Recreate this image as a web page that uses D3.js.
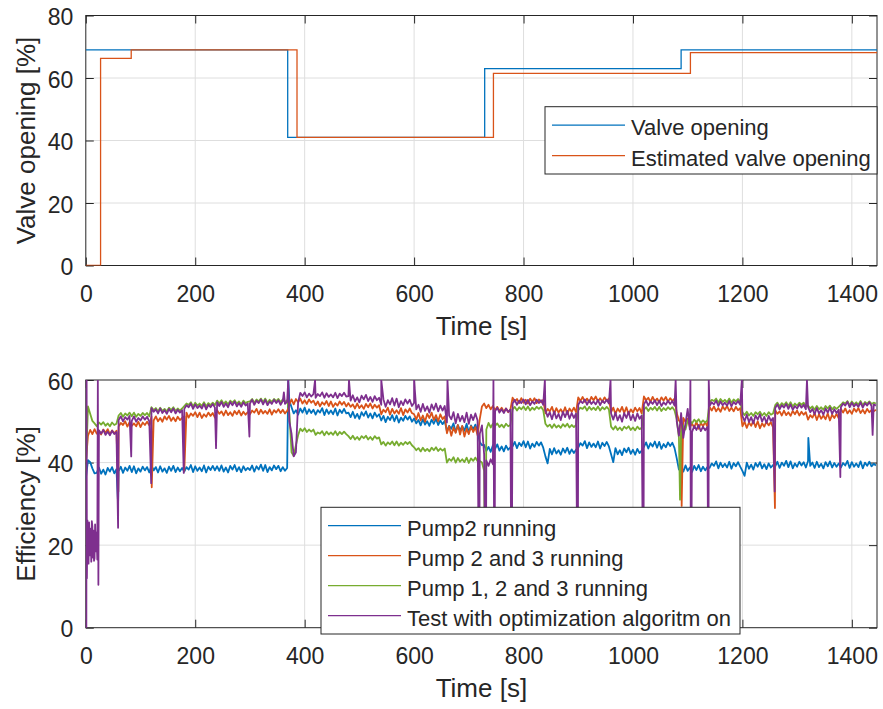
<!DOCTYPE html>
<html>
<head>
<meta charset="utf-8">
<script src="https://cdn.jsdelivr.net/npm/d3@7"></script>
<style>
  body { margin: 0; background: #fff; }
  text { font-family: "Liberation Sans", Arial, Helvetica, sans-serif; fill: #262626; }
  .tick text { font-size: 23px; }
  .axis-label { font-size: 26px; }
  .legend text { font-size: 22px; }
</style>
</head>
<body>
<svg id="fig" width="883" height="709"></svg>
<script>
// ---------- Valve position (upper panel) ----------
const valveTime        = [0, 369, 729, 1088, 1446];
const valveOpening     = [69, 41, 63, 69, 69];
const estimatedTime    = [0, 27, 83, 386, 745, 1105, 1446];
const estimatedOpening = [0, 66.3, 69, 41, 61.5, 68.1, 68.1];

// ---------- Efficiency logs (lower panel), one sample every 4 s, one row per minute ----------
const sampleStep = 4;

const pump2Running = [
  36.0, 40.6, 40.1, 38.6, 37.4, 37.5, 38.8, 37.3, 38.3, 37.1, 38.7, 37.8, 38.9, 37.4, 38.4,
  37.9, 39.0, 37.5, 38.8, 38.0, 39.2, 37.7, 39.1, 37.4, 38.6, 37.8, 39.0, 38.1, 38.9, 37.6,
  39.3, 38.1, 38.9, 37.6, 39.1, 37.8, 38.6, 37.5, 39.0, 38.0, 39.2, 37.7, 38.8, 37.9, 38.7,
  37.8, 38.9, 38.3, 39.4, 37.7, 39.1, 38.0, 38.8, 37.9, 39.3, 37.6, 39.0, 38.2, 39.2, 38.1,
  39.1, 38.0, 39.3, 37.8, 38.8, 37.6, 39.2, 38.3, 39.4, 37.9, 38.9, 37.7, 39.1, 38.1, 38.7,
  38.2, 39.3, 37.8, 39.1, 38.3, 39.5, 38.0, 39.4, 37.7, 38.9, 38.1, 39.3, 38.4, 39.2, 37.9,
  38.9, 38.0, 38.7, 55.0, 53.4, 51.9, 52.7, 51.6, 53.1, 52.1, 53.3, 51.8, 52.9, 52.0, 52.8,
  51.6, 52.7, 52.1, 53.2, 51.5, 52.9, 51.8, 52.6, 51.7, 53.1, 51.4, 52.8, 52.0, 53.0, 51.9,
  52.1, 51.0, 52.3, 50.8, 51.8, 50.6, 52.2, 51.3, 52.4, 50.9, 51.9, 50.7, 52.1, 51.1, 51.7,
  50.2, 51.3, 49.8, 51.1, 50.3, 51.5, 50.0, 51.4, 49.7, 50.9, 50.1, 51.3, 50.4, 51.2, 49.9,
  50.7, 49.5, 50.3, 49.0, 50.5, 49.2, 50.0, 48.9, 50.4, 49.4, 50.6, 49.1, 50.2, 49.3, 50.1,
  47.6, 48.9, 48.2, 49.5, 47.4, 49.1, 47.8, 48.8, 47.7, 49.4, 47.3, 49.0, 48.0, 49.2, 47.3,
  45.0, 44.2, 44.3, 42.8, 43.8, 42.6, 44.2, 43.3, 44.4, 42.9, 43.9, 42.7, 44.1, 43.1, 43.7,
  43.9, 45.0, 43.5, 44.8, 44.0, 45.2, 43.7, 45.1, 43.4, 44.6, 43.8, 45.0, 44.1, 44.9, 43.6,
  41.5, 39.8, 43.3, 42.0, 43.5, 42.2, 43.0, 41.9, 43.4, 42.4, 43.6, 42.1, 43.2, 42.3, 43.1,
  43.6, 44.7, 44.1, 45.2, 43.5, 44.9, 43.8, 44.6, 43.7, 45.1, 43.4, 44.8, 44.0, 45.0, 43.9,
  42.0, 40.1, 43.5, 42.0, 43.0, 41.8, 43.4, 42.5, 43.6, 42.1, 43.1, 41.9, 43.3, 42.3, 42.9,
  43.8, 44.9, 43.4, 44.7, 43.9, 45.1, 43.6, 45.0, 43.3, 44.5, 43.7, 44.9, 44.0, 44.8, 43.5,
  41.0, 38.3, 39.1, 37.8, 39.3, 38.0, 38.8, 37.7, 39.2, 38.2, 39.4, 37.9, 39.0, 38.1, 38.9,
  38.7, 39.8, 39.2, 40.3, 38.6, 40.0, 38.9, 39.7, 38.8, 40.2, 38.5, 39.9, 39.1, 40.1, 39.0,
  38.0, 36.8, 40.0, 38.5, 39.5, 38.3, 39.9, 39.0, 40.1, 38.6, 39.6, 38.4, 39.8, 38.8, 39.4,
  39.1, 40.2, 38.7, 40.0, 39.2, 40.4, 38.9, 40.3, 38.6, 39.8, 39.0, 40.2, 39.3, 40.1, 38.8,
  40.4, 39.2, 40.0, 38.7, 40.2, 38.9, 39.7, 38.6, 40.1, 39.1, 40.3, 38.8, 39.9, 39.0, 39.8,
  38.8, 39.9, 39.3, 40.4, 38.7, 40.1, 39.0, 39.8, 38.9, 40.3, 38.6, 40.0, 39.2, 40.2, 39.1,
  39.7, 39.3
];

const pumps23Running = [
  40.0, 46.5, 47.9, 46.9, 48.1, 47.0, 47.7, 46.8, 48.0, 47.2, 48.1, 46.9, 47.8, 47.1, 47.7,
  48.7, 49.6, 49.1, 50.0, 48.7, 49.8, 48.9, 49.5, 48.8, 49.9, 48.6, 49.7, 49.1, 49.9, 49.0,
  51.1, 50.2, 51.2, 50.0, 50.8, 49.9, 51.2, 50.4, 51.3, 50.1, 50.9, 50.0, 51.1, 50.3, 50.8,
  51.2, 52.1, 50.9, 51.9, 51.3, 52.2, 51.0, 52.1, 50.8, 51.7, 51.1, 52.1, 51.3, 52.0, 50.9,
  52.7, 51.8, 52.4, 51.4, 52.6, 51.5, 52.2, 51.3, 52.5, 51.7, 52.6, 51.4, 52.3, 51.6, 52.2,
  51.7, 52.6, 52.1, 53.0, 51.7, 52.8, 51.9, 52.5, 51.8, 52.9, 51.6, 52.7, 52.1, 52.9, 52.0,
  52.8, 51.9, 52.5, 54.0, 55.3, 54.1, 55.4, 54.6, 55.5, 54.3, 55.1, 54.2, 55.3, 54.5, 55.0,
  53.9, 54.8, 53.6, 54.6, 54.0, 54.9, 53.7, 54.8, 53.5, 54.4, 53.8, 54.8, 54.0, 54.7, 53.6,
  54.4, 53.5, 54.1, 53.1, 54.3, 53.2, 53.9, 53.0, 54.2, 53.4, 54.3, 53.1, 54.0, 53.3, 53.9,
  51.7, 52.8, 52.2, 53.3, 51.6, 53.0, 51.9, 52.7, 51.8, 53.2, 51.5, 52.9, 52.1, 53.1, 52.0,
  51.7, 50.4, 52.0, 50.2, 51.4, 49.9, 51.8, 50.8, 52.1, 50.3, 51.5, 50.0, 51.7, 50.5, 51.2,
  47.1, 48.8, 46.5, 48.5, 47.2, 49.1, 46.8, 48.9, 46.3, 48.2, 46.9, 48.8, 47.4, 48.6, 46.6,
  50.5, 53.6, 54.3, 53.2, 54.0, 52.9, 53.7, 52.7, 53.5, 52.5, 53.3, 52.3, 53.1, 52.2, 52.9,
  55.7, 54.8, 55.4, 54.4, 55.6, 54.5, 55.2, 54.3, 55.5, 54.7, 55.6, 54.4, 55.3, 54.6, 55.2,
  51.9, 53.0, 52.4, 53.5, 51.8, 53.2, 52.1, 52.9, 52.0, 53.4, 51.7, 53.1, 52.3, 53.3, 52.2,
  55.8, 54.9, 55.9, 54.7, 55.5, 54.6, 55.9, 55.1, 56.0, 54.8, 55.6, 54.7, 55.8, 55.0, 55.5,
  52.2, 53.3, 51.8, 53.1, 52.3, 53.5, 52.0, 53.4, 51.7, 52.9, 52.1, 53.3, 52.4, 53.2, 51.9,
  56.0, 55.1, 55.7, 54.7, 55.9, 54.8, 55.5, 54.6, 55.8, 55.0, 55.9, 54.7, 55.6, 54.9, 55.5,
  52.0, 50.2, 49.5, 50.8, 49.9, 50.6, 48.6, 49.4, 48.5, 49.9, 48.2, 49.6, 48.8, 49.8, 48.7,
  53.5, 52.6, 53.6, 52.4, 53.2, 52.3, 53.6, 52.8, 53.7, 52.5, 53.3, 52.4, 53.5, 52.7, 53.2,
  48.8, 49.9, 48.4, 49.7, 48.9, 50.1, 48.6, 50.0, 48.3, 49.5, 48.7, 49.9, 49.0, 49.8, 48.5,
  52.7, 51.8, 52.4, 51.4, 52.6, 51.5, 52.2, 51.3, 52.5, 51.7, 52.6, 51.4, 52.3, 51.6, 52.2,
  50.4, 51.5, 50.9, 52.0, 50.3, 51.7, 50.6, 51.4, 50.5, 51.9, 50.2, 51.6, 50.8, 51.8, 50.7,
  53.0, 52.1, 53.1, 51.9, 52.7, 51.8, 53.1, 52.3, 53.2, 52.0, 52.8, 51.9, 53.0, 52.2, 52.7,
  52.4, 52.8
];

const pumps123Running = [
  38.0, 53.6, 51.8, 50.1, 49.5, 48.8, 49.7, 49.2, 49.8, 48.9, 49.5, 48.8, 49.7, 49.1, 49.4,
  51.4, 52.0, 51.1, 51.9, 51.4, 52.1, 51.2, 52.1, 51.1, 51.8, 51.3, 52.0, 51.5, 52.0, 51.2,
  53.4, 52.7, 53.2, 52.4, 53.3, 52.5, 53.0, 52.4, 53.3, 52.7, 53.4, 52.5, 53.1, 52.6, 53.1,
  53.7, 54.3, 54.0, 54.6, 53.6, 54.5, 53.8, 54.3, 53.7, 54.6, 53.6, 54.4, 53.9, 54.5, 53.9,
  55.0, 54.3, 55.1, 54.2, 54.8, 54.1, 55.0, 54.5, 55.1, 54.2, 54.8, 54.1, 55.0, 54.4, 54.7,
  54.8, 55.4, 54.5, 55.3, 54.8, 55.5, 54.6, 55.5, 54.5, 55.2, 54.7, 55.4, 54.9, 55.4, 54.6,
  55.3, 54.7, 55.1, 52.0, 42.5, 41.6, 44.2, 46.6, 48.2, 47.6, 48.3, 47.4, 48.0, 47.5, 48.0,
  46.7, 47.3, 47.0, 47.6, 46.6, 47.5, 46.8, 47.3, 46.7, 47.6, 46.6, 47.4, 46.9, 47.5, 46.9,
  46.4, 45.7, 46.5, 45.6, 46.2, 45.5, 46.4, 45.9, 46.5, 45.6, 46.2, 45.5, 46.4, 45.8, 46.1,
  44.4, 45.0, 44.1, 44.9, 44.4, 45.1, 44.2, 45.1, 44.1, 44.8, 44.3, 45.0, 44.5, 45.0, 44.2,
  43.7, 43.0, 43.5, 42.7, 43.6, 42.8, 43.3, 42.7, 43.6, 43.0, 43.7, 42.8, 43.4, 42.9, 43.4,
  40.0, 40.9, 40.4, 41.3, 40.0, 41.1, 40.2, 40.8, 40.1, 41.2, 39.9, 41.0, 40.4, 41.2, 40.3,
  40.4, 40.0, 38.0, 48.0, 49.6, 48.5, 49.4, 48.9, 49.5, 48.6, 49.2, 48.5, 49.4, 48.8, 49.1,
  52.9, 53.5, 52.6, 53.4, 52.9, 53.6, 52.7, 53.6, 52.6, 53.3, 52.8, 53.5, 53.0, 53.5, 52.7,
  49.4, 48.7, 49.2, 48.4, 49.3, 48.5, 49.0, 48.4, 49.3, 48.7, 49.4, 48.5, 49.1, 48.6, 49.1,
  52.7, 53.3, 53.0, 53.6, 52.6, 53.5, 52.8, 53.3, 52.7, 53.6, 52.6, 53.4, 52.9, 53.5, 52.9,
  48.7, 48.0, 48.8, 47.9, 48.5, 47.8, 48.7, 48.2, 48.8, 47.9, 48.5, 47.8, 48.7, 48.1, 48.4,
  52.8, 53.4, 52.5, 53.3, 52.8, 53.5, 52.6, 53.5, 52.5, 53.2, 52.7, 53.4, 52.9, 53.4, 52.6,
  50.5, 46.0, 47.5, 49.0, 48.0, 50.2, 50.1, 49.5, 50.4, 49.8, 50.5, 49.6, 50.2, 49.7, 50.2,
  54.6, 55.2, 54.9, 55.5, 54.5, 55.4, 54.7, 55.2, 54.6, 55.5, 54.5, 55.3, 54.8, 55.4, 54.8,
  52.2, 51.5, 52.3, 51.4, 52.0, 51.3, 52.2, 51.7, 52.3, 51.4, 52.0, 51.3, 52.2, 51.6, 51.9,
  53.9, 54.5, 53.6, 54.4, 53.9, 54.6, 53.7, 54.6, 53.6, 54.3, 53.8, 54.5, 54.0, 54.5, 53.7,
  53.8, 53.1, 53.6, 52.8, 53.7, 52.9, 53.4, 52.8, 53.7, 53.1, 53.8, 52.9, 53.5, 53.0, 53.5,
  54.0, 54.6, 54.3, 54.9, 53.9, 54.8, 54.1, 54.6, 54.0, 54.9, 53.9, 54.7, 54.2, 54.8, 54.2,
  54.5, 54.3
];

const optimizationOn = [
   0.0, 22.0, 17.5, 24.5, 16.8, 21.0, 47.8, 47.0, 47.9, 46.7, 47.5, 46.6, 47.7, 46.9, 47.4,
  50.3, 51.2, 50.0, 51.0, 50.4, 51.3, 50.1, 51.2, 49.9, 50.8, 50.2, 51.2, 50.4, 51.1, 50.0,
  53.2, 52.3, 52.9, 51.9, 53.1, 52.0, 52.7, 51.8, 53.0, 52.2, 53.1, 51.9, 52.8, 52.1, 52.7,
  53.0, 53.9, 53.4, 54.3, 53.0, 54.1, 53.2, 53.8, 53.1, 54.2, 52.9, 54.0, 53.4, 54.2, 53.3,
  54.6, 53.7, 54.7, 53.5, 54.3, 53.4, 54.7, 53.9, 54.8, 53.6, 54.4, 53.5, 54.6, 53.8, 54.3,
  54.3, 55.2, 54.0, 55.0, 54.4, 55.3, 54.1, 55.2, 53.9, 54.8, 54.2, 55.2, 54.4, 55.1, 54.0,
  54.9, 54.2, 54.7, 50.0, 47.0, 41.5, 42.5, 54.5, 56.9, 56.1, 57.0, 55.8, 56.7, 56.0, 56.6,
  55.7, 56.6, 56.1, 57.0, 55.7, 56.8, 55.9, 56.5, 55.8, 56.9, 55.6, 56.7, 56.1, 56.9, 56.0,
  56.1, 55.0, 56.3, 54.8, 55.8, 54.6, 56.2, 55.3, 56.4, 54.9, 55.9, 54.7, 56.1, 55.1, 55.7,
  54.0, 55.3, 53.5, 55.1, 54.1, 55.6, 53.8, 55.5, 53.4, 54.9, 53.9, 55.3, 54.3, 55.2, 53.7,
  54.5, 52.9, 54.0, 52.3, 54.2, 52.5, 53.6, 52.1, 54.1, 52.8, 54.3, 52.4, 53.8, 52.6, 53.7,
  49.7, 51.4, 50.5, 52.2, 49.5, 51.8, 50.0, 51.3, 49.8, 52.1, 49.4, 51.6, 50.3, 51.9, 50.2,
  47.0, 49.0, 42.0, 40.5, 39.2, 40.8, 39.6, 52.4, 53.3, 52.1, 52.9, 52.0, 53.1, 52.3, 52.8,
  54.3, 55.2, 54.0, 55.0, 54.4, 55.3, 54.1, 55.2, 53.9, 54.8, 54.2, 55.2, 54.4, 55.1, 54.0,
  52.7, 51.1, 52.2, 50.5, 52.4, 50.7, 51.8, 50.3, 52.3, 51.0, 52.5, 50.6, 52.0, 50.8, 51.9,
  54.0, 54.9, 54.4, 55.3, 54.0, 55.1, 54.2, 54.8, 54.1, 55.2, 53.9, 55.0, 54.4, 55.2, 54.3,
  51.9, 50.4, 52.1, 50.2, 51.5, 49.9, 52.0, 50.8, 52.3, 50.3, 51.6, 50.1, 51.9, 50.6, 51.4,
  54.1, 55.0, 53.8, 54.8, 54.2, 55.1, 53.9, 55.0, 53.7, 54.6, 54.0, 55.0, 54.2, 54.9, 53.8,
  50.0, 46.5, 52.0, 46.0, 49.5, 53.0, 48.0, 47.4, 48.9, 47.9, 49.1, 47.6, 48.7, 47.8, 48.6,
  53.7, 54.6, 54.1, 55.0, 53.7, 54.8, 53.9, 54.5, 53.8, 54.9, 53.6, 54.7, 54.1, 54.9, 54.0,
  51.3, 50.0, 51.6, 49.8, 51.0, 49.5, 51.4, 50.4, 51.7, 49.9, 51.1, 49.6, 51.3, 50.1, 50.8,
  53.2, 54.1, 52.9, 53.9, 53.3, 54.2, 53.0, 54.1, 52.8, 53.7, 53.1, 54.1, 53.3, 54.0, 52.9,
  53.4, 52.2, 53.0, 51.7, 53.2, 51.9, 52.7, 51.6, 53.1, 52.1, 53.3, 51.8, 52.9, 52.0, 52.8,
  53.4, 54.3, 53.8, 54.7, 53.4, 54.5, 53.6, 54.2, 53.5, 54.6, 53.3, 54.4, 53.8, 54.6, 53.7,
  54.1, 53.8
];

// Short transients logged between the regular samples: [time s, efficiency %]
const pump2Transients = [[59, 30], [370, 60], [1320.5, 46]];
const pumps23Transients = [[59.5, 33], [120.5, 34], [180, 38], [1089, 29.5], [1259.5, 29]];
const pumps123Transients = [[730, 0], [1086, 31]];
const optimizationTransients = [
  [0.5, 60], [1, 0], [1.5, 60], [2, 12], [3, 26], [5, 15.5], [6, 25.5], [7, 18], [9, 24],
  [10, 16], [11, 25.8], [13, 17], [14, 23.5], [15, 16.2], [17, 25], [18, 18.5], [19, 23],
  [21, 16.5], [22, 60], [23, 10.4], [59, 24.2], [83, 41.5], [119.5, 35], [179, 37.5],
  [238, 43.5], [299, 46.3], [362, 57], [370, 60], [419, 60], [481, 60], [540, 60], [600, 60],
  [661, 60], [719, 0], [731, 0], [745, 60], [747, 0], [778, 0], [839, 60], [899, 0],
  [959, 60], [1019, 0], [1078, 60], [1105, 60], [1106, 0], [1138, 0], [1138.5, 60],
  [1199, 60], [1259, 33], [1318, 60], [1379, 36.5], [1438, 46.7]
];

// ---------- Axis ticks and labels ----------
const timeTicks = [0, 200, 400, 600, 800, 1000, 1200, 1400];
const valveTicks = [0, 20, 40, 60, 80];
const efficiencyTicks = [0, 20, 40, 60];
const timeLabel = "Time [s]";
const valveLabel = "Valve opening [%]";
const efficiencyLabel = "Efficiency [%]";
const valveLegend = ["Valve opening", "Estimated valve opening"];
const efficiencyLegend = ["Pump2 running", "Pump 2 and 3 running", "Pump 1, 2 and 3 running",
                          "Test with optimization algoritm on"];

// MATLAB default colour order
const colors = ["#0072BD", "#D95319", "#77AC30", "#7E2F8E"];
const axisColor = "#262626";
const gridColor = "#dedede";

// ---------- Layout ----------
const left = 85.8, right = 877;
const svg = d3.select("#fig");
const x = d3.scaleLinear().domain([0, 1446]).range([left, right]);
const plain = d3.format("d");

function panel(id, top, bottom, yMax, yTicks, yLabel) {
  const y = d3.scaleLinear().domain([0, yMax]).range([bottom, top]);
  const g = svg.append("g");

  g.append("rect").attr("x", left).attr("y", top)
    .attr("width", right - left).attr("height", bottom - top).attr("fill", "#fff");

  // grid
  g.append("g").selectAll("line").data(timeTicks.filter(t => t > 0)).join("line")
    .attr("x1", d => x(d)).attr("x2", d => x(d)).attr("y1", top).attr("y2", bottom)
    .attr("stroke", gridColor).attr("stroke-width", 1);
  g.append("g").selectAll("line").data(yTicks.filter(t => t > 0 && t < yMax)).join("line")
    .attr("x1", left).attr("x2", right).attr("y1", d => y(d)).attr("y2", d => y(d))
    .attr("stroke", gridColor).attr("stroke-width", 1);

  // box with inward ticks on all four sides
  const tick = 8;
  const gb = g.append("g").attr("transform", `translate(0,${bottom})`).style("color", axisColor)
    .call(d3.axisBottom(x).tickValues(timeTicks).tickFormat(plain)
      .tickSizeInner(-tick).tickSizeOuter(0).tickPadding(0));
  gb.selectAll("text").attr("y", 36).attr("dy", null);
  const gl = g.append("g").attr("transform", `translate(${left},0)`).style("color", axisColor)
    .call(d3.axisLeft(y).tickValues(yTicks).tickFormat(plain)
      .tickSizeInner(-tick).tickSizeOuter(0).tickPadding(12.5));
  gl.selectAll("text").attr("dy", "0.4em");
  g.append("g").attr("transform", `translate(0,${top})`).style("color", axisColor)
    .call(d3.axisTop(x).tickValues(timeTicks).tickSizeInner(-tick).tickSizeOuter(0).tickFormat(""));
  g.append("g").attr("transform", `translate(${right},0)`).style("color", axisColor)
    .call(d3.axisRight(y).tickValues(yTicks).tickSizeInner(-tick).tickSizeOuter(0).tickFormat(""));
  g.selectAll(".domain").remove();
  g.selectAll(".tick text").attr("fill", axisColor);
  g.append("rect").attr("x", left).attr("y", top)
    .attr("width", right - left).attr("height", bottom - top)
    .attr("fill", "none").attr("stroke", axisColor).attr("stroke-width", 1);

  // axis titles
  g.append("text").attr("class", "axis-label").attr("text-anchor", "middle")
    .attr("x", (left + right) / 2).attr("y", bottom + 69.5).text(timeLabel);
  g.append("text").attr("class", "axis-label").attr("text-anchor", "middle")
    .attr("transform", `translate(35,${(top + bottom) / 2}) rotate(-90)`).text(yLabel);

  // clip region for the data
  svg.append("clipPath").attr("id", id).append("rect")
    .attr("x", left).attr("y", top).attr("width", right - left).attr("height", bottom - top);
  const plot = svg.append("g").attr("clip-path", `url(#${id})`);
  return { y, plot };
}

function legend(x0, y0, w, h, labels, firstRow, rowGap) {
  const g = svg.append("g").attr("class", "legend");
  g.append("rect").attr("x", x0).attr("y", y0).attr("width", w).attr("height", h)
    .attr("fill", "#fff").attr("stroke", axisColor).attr("stroke-width", 1);
  labels.forEach((lab, i) => {
    const yy = y0 + firstRow + i * rowGap;
    g.append("line").attr("x1", x0 + 7).attr("x2", x0 + 80).attr("y1", yy).attr("y2", yy)
      .attr("stroke", colors[i]).attr("stroke-width", 1.3);
    g.append("text").attr("x", x0 + 86).attr("y", yy + 10).text(lab);
  });
}

// ---------- Upper panel: valve opening ----------
const upper = panel("clipTop", 15.5, 265.5, 80, valveTicks, valveLabel);
const stepLine = d3.line().curve(d3.curveStepAfter).x(d => x(d[0])).y(d => upper.y(d[1]));
[[valveTime, valveOpening], [estimatedTime, estimatedOpening]].forEach(([t, v], i) => {
  upper.plot.append("path").datum(d3.zip(t, v))
    .attr("d", stepLine).attr("fill", "none").attr("stroke", colors[i]).attr("stroke-width", 1.3);
});
legend(545, 106.7, 332, 67.3, valveLegend, 18.5, 30.5);

// ---------- Lower panel: efficiency ----------
const lower = panel("clipBottom", 380, 627.7, 60, efficiencyTicks, efficiencyLabel);
const effLine = d3.line().x(d => x(d[0])).y(d => lower.y(d[1]));
const withTransients = (vals, extra) =>
  vals.map((v, i) => [i * sampleStep, v]).concat(extra).sort((a, b) => a[0] - b[0]);
[[pump2Running, pump2Transients], [pumps23Running, pumps23Transients],
 [pumps123Running, pumps123Transients], [optimizationOn, optimizationTransients]]
  .forEach(([vals, extra], i) => {
    lower.plot.append("path").datum(withTransients(vals, extra))
      .attr("d", effLine).attr("fill", "none").attr("stroke", colors[i])
      .attr("stroke-width", 1.8).attr("stroke-linejoin", "round");
  });
legend(321, 507.3, 419, 126.7, efficiencyLegend, 18.4, 30);
</script>
</body>
</html>
